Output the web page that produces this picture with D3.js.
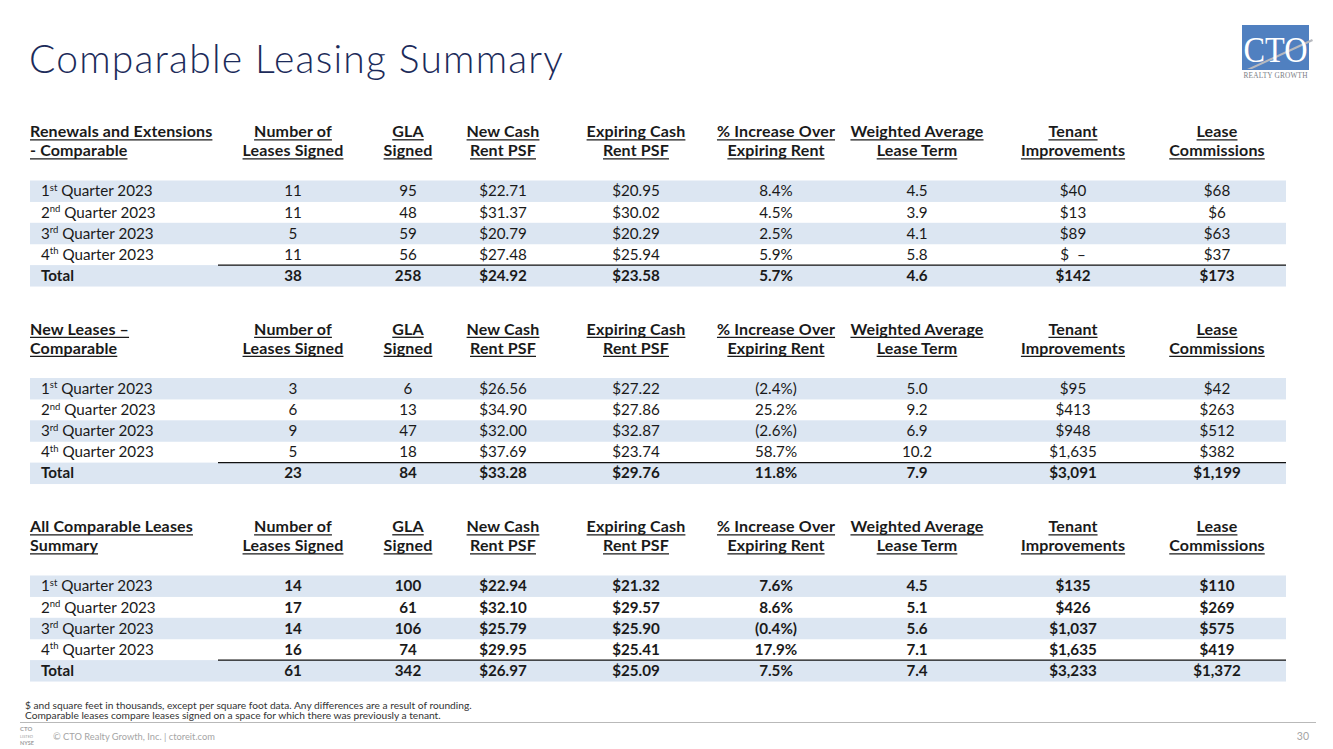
<!DOCTYPE html>
<html><head><meta charset="utf-8">
<script src="https://cdn.jsdelivr.net/npm/d3@7"></script>
<style>
html,body{margin:0;padding:0;background:#fff;}
svg{display:block;font-family:Lato,"Open Sans",sans-serif;}
</style></head>
<body><svg id="c" width="1333" height="749"></svg>
<script>
// ---------- data ----------
const quarterNums = ["1", "2", "3", "4"];
const quarterSups = ["st", "nd", "rd", "th"];
const quarterYear = "Quarter 2023";
const rowKeys = ["q1", "q2", "q3", "q4", "total"];

const columnKeys = ["leases", "gla", "newRent", "expRent", "pct", "term", "ti", "lc"];
const headerLine1 = ["Number of", "GLA", "New Cash", "Expiring Cash", "% Increase Over", "Weighted Average", "Tenant", "Lease"];
const headerLine2 = ["Leases Signed", "Signed", "Rent PSF", "Rent PSF", "Expiring Rent", "Lease Term", "Improvements", "Commissions"];

const tableTitles1 = ["Renewals and Extensions", "New Leases –", "All Comparable Leases"];
const tableTitles2 = ["- Comparable", "Comparable", "Summary"];

// Renewals and Extensions - Comparable
const renewLeases = [11, 11, 5, 11, 38];
const renewGLA = [95, 48, 59, 56, 258];
const renewNewRent = [22.71, 31.37, 20.79, 27.48, 24.92];
const renewExpRent = [20.95, 30.02, 20.29, 25.94, 23.58];
const renewPct = [8.4, 4.5, 2.5, 5.9, 5.7];
const renewTerm = [4.5, 3.9, 4.1, 5.8, 4.6];
const renewTI = [40, 13, 89, 0, 142];
const renewLC = [68, 6, 63, 37, 173];

// New Leases - Comparable
const newLeases = [3, 6, 9, 5, 23];
const newGLA = [6, 13, 47, 18, 84];
const newNewRent = [26.56, 34.90, 32.00, 37.69, 33.28];
const newExpRent = [27.22, 27.86, 32.87, 23.74, 29.76];
const newPct = [-2.4, 25.2, -2.6, 58.7, 11.8];
const newTerm = [5.0, 9.2, 6.9, 10.2, 7.9];
const newTI = [95, 413, 948, 1635, 3091];
const newLC = [42, 263, 512, 382, 1199];

// All Comparable Leases Summary
const allLeases = [14, 17, 14, 16, 61];
const allGLA = [100, 61, 106, 74, 342];
const allNewRent = [22.94, 32.10, 25.79, 29.95, 26.97];
const allExpRent = [21.32, 29.57, 25.90, 25.41, 25.09];
const allPct = [7.6, 8.6, -0.4, 17.9, 7.5];
const allTerm = [4.5, 5.1, 5.6, 7.1, 7.4];
const allTI = [135, 426, 1037, 1635, 3233];
const allLC = [110, 269, 575, 419, 1372];

const footNotes = [
  "$ and square feet in thousands, except per square foot data. Any differences are a result of rounding.",
  "Comparable leases compare leases signed on a space for which there was previously a tenant."
];
const copyright = "© CTO Realty Growth, Inc. | ctoreit.com";
const pageNum = "30";

// ---------- formatters ----------
const fmtInt = d3.format(",");
const fmt = {
  leases: v => fmtInt(v),
  gla: v => fmtInt(v),
  newRent: v => "$" + d3.format(",.2f")(v),
  expRent: v => "$" + d3.format(",.2f")(v),
  pct: v => v < 0 ? "(" + d3.format(".1f")(-v) + "%)" : d3.format(".1f")(v) + "%",
  term: v => d3.format(".1f")(v),
  ti: v => v === 0 ? "$  –" : "$" + fmtInt(v),
  lc: v => v === 0 ? "$  –" : "$" + fmtInt(v)
};

const tables = [
  {cols: [renewLeases, renewGLA, renewNewRent, renewExpRent, renewPct, renewTerm, renewTI, renewLC], bold: false},
  {cols: [newLeases, newGLA, newNewRent, newExpRent, newPct, newTerm, newTI, newLC], bold: false},
  {cols: [allLeases, allGLA, allNewRent, allExpRent, allPct, allTerm, allTI, allLC], bold: true}
];

// ---------- layout ----------
const svg = d3.select("#c");
const navy = "#1c2b5a";
const ink = "#1a1a1a";
const stripe = "#dce6f2";

const xCol = d3.scaleOrdinal().domain(columnKeys)
  .range([293, 408, 503, 636, 776, 917, 1073, 1217]);
const tableTop = d3.scaleLinear().domain([0, 1]).range([180.5, 378]);
const stripeLeft = 30, stripeRight = 1286;

// title
svg.append("text").attr("x", 29).attr("y", 73)
  .attr("font-size", 39).attr("font-weight", 300).attr("fill", navy)
  .style("letter-spacing", "1.2px")
  .text("Comparable Leasing Summary");

// logo
const logo = svg.append("g");
logo.append("rect").attr("x", 1242).attr("y", 25).attr("width", 67).attr("height", 45).attr("fill", "#5080c0");
logo.append("path").attr("d", "M1247,69 L1312,39 L1313,41 L1252,69 Z").attr("fill", "#b7b9bf");
logo.append("text").attr("x", 1275.5).attr("y", 62).attr("text-anchor", "middle")
  .attr("font-family", "Liberation Serif, DejaVu Serif, serif").attr("font-size", 36)
  .attr("fill", "#fff").attr("textLength", 64).attr("lengthAdjust", "spacingAndGlyphs").text("CTO");
logo.append("text").attr("x", 1275.5).attr("y", 77.5).attr("text-anchor", "middle")
  .attr("font-family", "Liberation Serif, DejaVu Serif, serif").attr("font-size", 7.3)
  .attr("fill", "#7a7d86").attr("textLength", 64).text("REALTY GROWTH");

// tables
tables.forEach((tb, ti) => {
  const top = tableTop(ti);
  const yRow = d3.scaleBand().domain(rowKeys).range([top, top + 5 * 21.15]).padding(0);
  const g = svg.append("g");

  // stripes
  g.selectAll("rect.stripe").data(["q1", "q3", "total"]).join("rect")
    .attr("x", stripeLeft).attr("width", stripeRight - stripeLeft)
    .attr("y", d => yRow(d)).attr("height", yRow.bandwidth() + 0.3)
    .attr("fill", stripe);

  // header
  const h1y = top - 43.5, h2y = top - 24.5;
  const headFont = 16;
  function headText(x, y, txt, anchor) {
    const t = g.append("text").attr("x", x).attr("y", y).attr("text-anchor", anchor)
      .attr("font-size", headFont).attr("font-weight", 700).attr("fill", ink)
      .style("letter-spacing", "0.15px").text(txt);
    const w = t.node().getComputedTextLength();
    const x0 = anchor === "middle" ? x - w / 2 : x;
    g.append("line").attr("x1", x0).attr("x2", x0 + w).attr("y1", y + 2.8).attr("y2", y + 2.8)
      .attr("stroke", ink).attr("stroke-width", 1.3);
  }
  headText(30, h1y, tableTitles1[ti], "start");
  headText(30, h2y, tableTitles2[ti], "start");
  columnKeys.forEach((k, i) => {
    headText(xCol(k), h1y, headerLine1[i], "middle");
    headText(xCol(k), h2y, headerLine2[i], "middle");
  });

  // row labels
  rowKeys.forEach((rk, r) => {
    const y = yRow(rk) + yRow.bandwidth() / 2 + 5.3;
    const t = g.append("text").attr("x", 41).attr("y", y).attr("font-size", 15.2).attr("fill", ink);
    if (rk === "total") {
      t.attr("font-weight", 700).text("Total");
    } else {
      t.append("tspan").text(quarterNums[r]);
      t.append("tspan").attr("font-size", 9.5).attr("dy", -5.5).text(quarterSups[r]);
      t.append("tspan").attr("dy", 5.5).text(" " + quarterYear);
    }
    // values
    columnKeys.forEach((k, c) => {
      g.append("text").attr("x", xCol(k)).attr("y", y).attr("text-anchor", "middle")
        .attr("font-size", 15.2).attr("fill", ink)
        .attr("font-weight", (rk === "total" || tb.bold) ? 700 : 400)
        .style("white-space", "pre")
        .text(fmt[k](tb.cols[c][r]));
    });
  });

  // total separator line
  g.append("line").attr("x1", 218).attr("x2", stripeRight)
    .attr("y1", yRow("total")).attr("y2", yRow("total"))
    .attr("stroke", "#111").attr("stroke-width", 1.4);
});

// footnotes
footNotes.forEach((t, i) => {
  svg.append("text").attr("x", 25).attr("y", 708.5 + i * 10.5).attr("font-size", 10.2)
    .attr("fill", "#333").text(t);
});
svg.append("line").attr("x1", 20).attr("x2", 1316).attr("y1", 722.5).attr("y2", 722.5)
  .attr("stroke", "#b9b9b9").attr("stroke-width", 1);
svg.append("text").attr("x", 53).attr("y", 740).attr("font-size", 9.3).attr("fill", "#a5a5a5").text(copyright);
svg.append("text").attr("x", 1309).attr("y", 740).attr("text-anchor", "end").attr("font-size", 10.5).attr("fill", "#a5a5a5").text(pageNum);
const small = svg.append("g").attr("fill", "#a0a0a0").attr("font-weight", 700);
small.append("text").attr("x", 20).attr("y", 731).attr("font-size", 6).text("CTO");
small.append("text").attr("x", 20).attr("y", 738).attr("font-size", 4).attr("font-weight", 400).text("LISTED");
small.append("text").attr("x", 20).attr("y", 745).attr("font-size", 5.5).text("NYSE");
</script></body></html>
